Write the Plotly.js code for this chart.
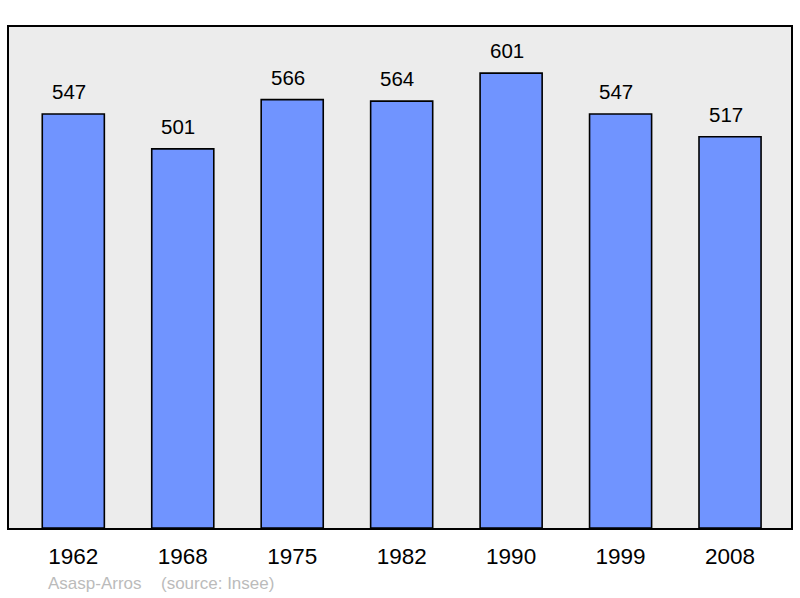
<!DOCTYPE html>
<html>
<head>
<meta charset="utf-8">
<script src="https://cdn.plot.ly/plotly-3.0.1.min.js"></script>
<style>html,body{margin:0;padding:0;background:#fff;}#chart{width:800px;height:598px;}</style>
</head>
<body>
<div id="chart"></div>
<script>
const years = ["1962", "1968", "1975", "1982", "1990", "1999", "2008"];
const population = [547, 501, 566, 564, 601, 547, 517];
const communeName = "Asasp-Arros";
const sourceText = "(source: Insee)";

const W = 800, H = 598;
const mL = 9, mR = 9, mT = 27, mB = 70;
const plotW = W - mL - mR, plotH = H - mT - mB;
const pxToPaperX = px => (px - mL) / plotW;
const pxToPaperY = py => (H - mB - py) / plotH;

const xs = years.map((_, i) => i);

const trace = {
  type: "bar",
  x: xs,
  y: population,
  width: 0.567,
  marker: { color: "#7094ff", line: { color: "#000", width: 1.6 } },
  hoverinfo: "none"
};

const annotations = population.map((v, i) => ({
  x: xs[i], y: v, xref: "x", yref: "y",
  text: String(v), showarrow: false,
  yanchor: "bottom", yshift: 9, xshift: -4.5,
  font: { family: "Liberation Sans, Arial, sans-serif", size: 20.5, color: "#000" }
}));
annotations.push({
  xref: "paper", yref: "paper", x: pxToPaperX(46), y: pxToPaperY(595),
  xanchor: "left", yanchor: "bottom", showarrow: false, text: communeName,
  font: { family: "Liberation Sans, Arial, sans-serif", size: 17, color: "#bbbbbb" }
});
annotations.push({
  xref: "paper", yref: "paper", x: pxToPaperX(159), y: pxToPaperY(595),
  xanchor: "left", yanchor: "bottom", showarrow: false, text: sourceText,
  font: { family: "Liberation Sans, Arial, sans-serif", size: 17, color: "#bbbbbb" }
});

const layout = {
  width: W, height: H,
  margin: { l: mL, r: mR, t: mT, b: mB, pad: 0 },
  paper_bgcolor: "#ffffff",
  plot_bgcolor: "#ececec",
  showlegend: false,
  xaxis: {
    range: [-0.5875, 6.557],
    tickvals: xs, ticktext: years,
    showgrid: false, zeroline: false,
    showline: true, mirror: true, linecolor: "#000", linewidth: 2,
    ticks: "", ticklabelstandoff: 7,
    tickfont: { family: "Liberation Sans, Arial, sans-serif", size: 22.5, color: "#000" },
    fixedrange: true
  },
  yaxis: {
    range: [0, 662],
    showgrid: false, zeroline: false, showticklabels: false,
    showline: true, mirror: true, linecolor: "#000", linewidth: 2,
    ticks: "", fixedrange: true
  },
  annotations: annotations
};

Plotly.newPlot("chart", [trace], layout, { staticPlot: true, displayModeBar: false });
</script>
</body>
</html>
